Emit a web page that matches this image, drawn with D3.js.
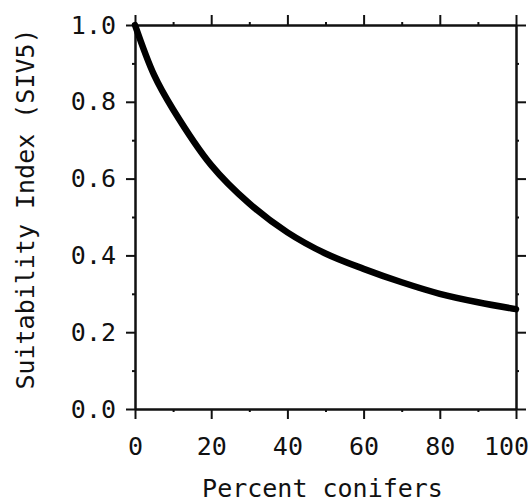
<!doctype html>
<html>
<head>
<script src="https://d3js.org/d3.v7.min.js"></script>
<style>
body { margin: 0; background: #fff; }
text { font-family: "DejaVu Sans Mono", monospace; fill: #111; }
.axis path, .axis line { stroke: #111; stroke-width: 2px; fill: none; }
</style>
</head>
<body>
<svg width="529" height="504"></svg>
<script>
// values
var conifers = [0, 5, 10, 20, 30, 40, 50, 60, 70, 80, 90, 100];
var siv5 = [1.0, 0.87, 0.78, 0.635, 0.535, 0.46, 0.405, 0.365, 0.33, 0.30, 0.278, 0.26];
var xTicks = [0, 20, 40, 60, 80, 100];
var yTicks = [0, 0.2, 0.4, 0.6, 0.8, 1.0];
var xMinor = [10, 30, 50, 70, 90];
var yMinor = [0.1, 0.3, 0.5, 0.7, 0.9];

var svg = d3.select("svg"),
    margin = {top: 25, right: 13, bottom: 95, left: 135},
    width = +svg.attr("width") - margin.left - margin.right,
    height = +svg.attr("height") - margin.top - margin.bottom;

var x = d3.scaleLinear().domain([0, 100]).range([0, width]),
    y = d3.scaleLinear().domain([0, 1]).range([height, 0]);

var g = svg.append("g")
    .attr("transform", "translate(" + margin.left + "," + margin.top + ")");

// minor ticks on all four sides
g.append("g").attr("class", "axis").attr("transform", "translate(0," + height + ")")
    .call(d3.axisBottom(x).tickValues(xMinor).tickSize(3).tickSizeOuter(0).tickFormat(""));
g.append("g").attr("class", "axis")
    .call(d3.axisTop(x).tickValues(xMinor).tickSize(3).tickSizeOuter(0).tickFormat(""));
g.append("g").attr("class", "axis")
    .call(d3.axisLeft(y).tickValues(yMinor).tickSize(3).tickSizeOuter(0).tickFormat(""));
g.append("g").attr("class", "axis").attr("transform", "translate(" + width + ",0)")
    .call(d3.axisRight(y).tickValues(yMinor).tickSize(3).tickSizeOuter(0).tickFormat(""));

// major ticks
var xb = g.append("g").attr("class", "axis").attr("transform", "translate(0," + height + ")")
    .call(d3.axisBottom(x).tickValues(xTicks).tickSize(10).tickSizeOuter(0).tickPadding(18));
g.append("g").attr("class", "axis")
    .call(d3.axisTop(x).tickValues(xTicks).tickSize(10).tickSizeOuter(0).tickFormat(""));
var yl = g.append("g").attr("class", "axis")
    .call(d3.axisLeft(y).tickValues(yTicks).tickSize(9).tickSizeOuter(0).tickPadding(10)
      .tickFormat(d3.format(".1f")));
g.append("g").attr("class", "axis").attr("transform", "translate(" + width + ",0)")
    .call(d3.axisRight(y).tickValues(yTicks).tickSize(10).tickSizeOuter(0).tickFormat(""));

g.selectAll(".axis text").style("font-size", "25px").style("font-family", "DejaVu Sans Mono");

// the "100" label sits a bit left so it stays on the page
xb.selectAll(".tick text").filter(function(d) { return d === 100; }).attr("dx", -10);

// curve
var line = d3.line()
    .x(function(d, i) { return x(conifers[i]); })
    .y(function(d) { return y(d); })
    .curve(d3.curveCatmullRom.alpha(0.5));

g.append("path")
    .datum(siv5)
    .attr("fill", "none")
    .attr("stroke", "#000")
    .attr("stroke-width", 6.5)
    .attr("stroke-linecap", "round")
    .attr("d", line);

// axis titles
svg.append("text")
    .attr("x", margin.left + width / 2 - 3)
    .attr("y", 497)
    .attr("text-anchor", "middle")
    .style("font-size", "25px")
    .text("Percent conifers");

svg.append("text")
    .attr("transform", "translate(34," + 209 + ") rotate(-90)")
    .attr("text-anchor", "middle")
    .style("font-size", "25px")
    .text("Suitability Index (SIV5)");
</script>
</body>
</html>
